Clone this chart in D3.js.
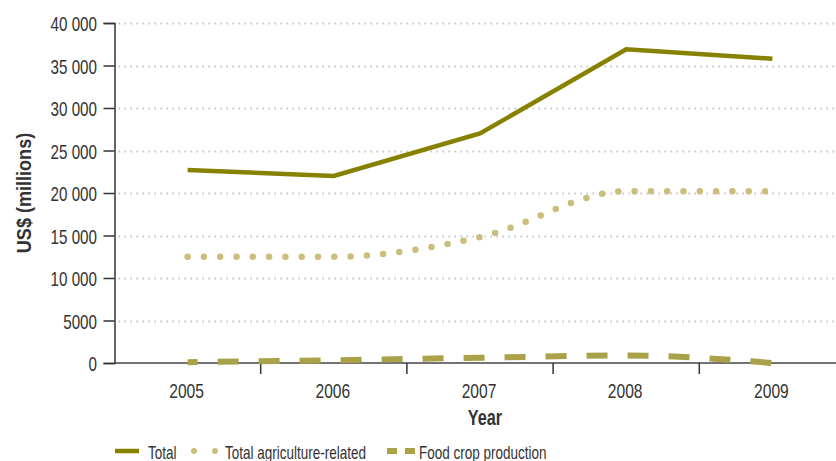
<!DOCTYPE html>
<html>
<head>
<meta charset="utf-8">
<script src="https://cdn.jsdelivr.net/npm/d3@7"></script>
<style>
  body { margin: 0; background: #fff; }
  text { font-family: "Liberation Sans", Arial, sans-serif; fill: #333; }
</style>
</head>
<body>
<svg id="chart" width="836" height="461"></svg>
<script>
 // data
 let years = ["2005", "2006", "2007", "2008", "2009"];
 let totalValues = [22700, 22000, 27000, 36900, 35800];
 let agriValues = [12500, 12500, 14800, 20200, 20200];
 let foodValues = [100, 320, 620, 880, 0];
 let yTicks = [0, 5000, 10000, 15000, 20000, 25000, 30000, 35000, 40000];

 let svg = d3.select("svg#chart");
 let width = +svg.attr("width");

 let margin = {top: 23, left: 114.5, bottom: 98};
 let chartHeight = 461 - margin.top - margin.bottom;

 const xScale = d3.scaleBand().domain(years).range([margin.left, 845.5]);
 const yScale = d3.scaleLinear().domain([0, 40000]).range([margin.top + chartHeight, margin.top]);

 const totalColor = "#878100";
 const agriColor = "#c9be7c";
 const foodColor = "#a9a248";

 let fmt = d => d >= 10000 ? d3.format(",")(d).replace(",", " ") : String(d);

 // no condensed font installed, so squeeze the text horizontally
 function squeeze(sel, s) {
     sel.each(function() {
         let t = d3.select(this);
         let x = +t.attr("x"), y = +t.attr("y");
         t.attr("x", 0).attr("y", 0)
          .attr("transform", `translate(${x},${y}) scale(${s},1)`);
     });
 }

 // gridlines
 let grid = svg.append("g").attr("id", "grid");
 grid.selectAll("line")
     .data(yTicks.filter(d => d > 0))
     .join("line")
     .attr("x1", margin.left + 4)
     .attr("x2", width)
     .attr("y1", d => Math.round(yScale(d)) + 0.5)
     .attr("y2", d => Math.round(yScale(d)) + 0.5)
     .attr("stroke", "#c4c4c4")
     .attr("stroke-width", 2)
     .attr("stroke-dasharray", "1.5,4.5");

 // y axis
 let leftAxis = d3.axisLeft(yScale)
                  .tickValues(yTicks)
                  .tickSize(11)
                  .tickFormat("");
 let yAxisG = svg.append("g")
     .attr("transform", `translate(${margin.left},0)`)
     .call(leftAxis);
 yAxisG.select(".domain").attr("stroke", "#333").attr("stroke-width", 1.5);
 yAxisG.selectAll(".tick line").attr("stroke", "#333").attr("stroke-width", 1.5);

 svg.append("g").attr("id", "ylabels")
     .selectAll("text")
     .data(yTicks)
     .join("text")
     .attr("x", 97)
     .attr("y", d => yScale(d) + 8)
     .attr("text-anchor", "end")
     .style("font-size", "20px")
     .attr("fill", "#3a3a3a")
     .text(fmt)
     .call(squeeze, 0.76);

 // x axis: ticks sit on band edges, labels at band centres
 let y0 = yScale(0);
 let xAxisG = svg.append("g").attr("id", "xaxis");
 xAxisG.append("line")
     .attr("x1", margin.left).attr("x2", width)
     .attr("y1", y0).attr("y2", y0)
     .attr("stroke", "#444").attr("stroke-width", 1.5);
 xAxisG.selectAll("line.tick")
     .data(years.slice(1))
     .join("line")
     .attr("class", "tick")
     .attr("x1", d => xScale(d)).attr("x2", d => xScale(d))
     .attr("y1", y0).attr("y2", y0 + 11)
     .attr("stroke", "#333").attr("stroke-width", 1.5);
 xAxisG.selectAll("text")
     .data(years)
     .join("text")
     .attr("x", d => xScale(d) + xScale.bandwidth() / 2 - 1)
     .attr("y", 398)
     .attr("text-anchor", "middle")
     .style("font-size", "20px")
     .attr("fill", "#3a3a3a")
     .text(d => d)
     .call(squeeze, 0.78);

 // axis titles
 svg.append("text")
     .attr("x", 485)
     .attr("y", 425)
     .attr("text-anchor", "middle")
     .style("font-size", "22px")
     .style("font-weight", "bold")
     .attr("fill", "#222")
     .text("Year")
     .call(squeeze, 0.74);

 svg.append("text")
     .attr("transform", "translate(31,193) rotate(-90) scale(0.86,1)")
     .attr("text-anchor", "middle")
     .style("font-size", "21px")
     .style("font-weight", "bold")
     .attr("fill", "#222")
     .text("US$ (millions)");

 // lines
 let xPos = i => xScale(years[i]) + xScale.bandwidth() / 2;
 let lines = svg.append("g").attr("id", "lines");

 let foodLine = d3.line().x((d, i) => xPos(i)).y(d => yScale(d)).curve(d3.curveMonotoneX);
 lines.append("path")
     .datum(foodValues)
     .attr("d", foodLine)
     .attr("fill", "none")
     .attr("stroke", foodColor)
     .attr("stroke-width", 6)
     .attr("stroke-dasharray", "21,20")
     .attr("stroke-dashoffset", 11);

 let agriLine = d3.line().x((d, i) => xPos(i)).y(d => yScale(d)).curve(d3.curveMonotoneX);
 lines.append("path")
     .datum(agriValues)
     .attr("d", agriLine)
     .attr("fill", "none")
     .attr("stroke", agriColor)
     .attr("stroke-width", 6.5)
     .attr("stroke-linecap", "round")
     .attr("stroke-dasharray", "0,16.3");

 let totalLine = d3.line().x((d, i) => xPos(i)).y(d => yScale(d));
 lines.append("path")
     .datum(totalValues)
     .attr("d", totalLine)
     .attr("fill", "none")
     .attr("stroke", totalColor)
     .attr("stroke-width", 4.5);

 // legend
 let legend = svg.append("g").attr("id", "legend");
 let ly = 451;
 legend.append("line")
     .attr("x1", 115).attr("x2", 139).attr("y1", ly).attr("y2", ly)
     .attr("stroke", totalColor).attr("stroke-width", 4.5);

 legend.selectAll("circle")
     .data([194, 215])
     .join("circle")
     .attr("cx", d => d).attr("cy", ly).attr("r", 3)
     .attr("fill", agriColor);

 legend.selectAll("rect")
     .data([387, 405])
     .join("rect")
     .attr("x", d => d).attr("y", ly - 3).attr("width", 10).attr("height", 6)
     .attr("fill", foodColor);

 legend.selectAll("text")
     .data([{x: 148, label: "Total"}, {x: 225, label: "Total agriculture-related"}, {x: 419, label: "Food crop production"}])
     .join("text")
     .attr("x", d => d.x)
     .attr("y", 459)
     .style("font-size", "18px")
     .attr("fill", "#3a3a3a")
     .text(d => d.label)
     .call(squeeze, 0.75);
</script>
</body>
</html>
